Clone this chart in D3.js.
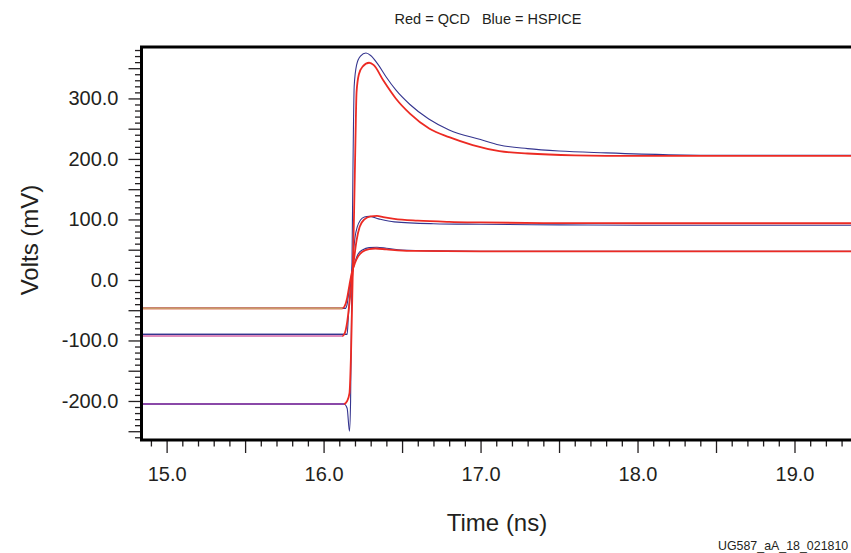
<!DOCTYPE html>
<html>
<head>
<meta charset="utf-8">
<script src="https://cdn.jsdelivr.net/npm/d3@7"></script>
<style>
  body { margin: 0; background: #fff; }
  text { font-family: "Liberation Sans", Arial, Helvetica, sans-serif; fill: #231f20; }
</style>
</head>
<body>
<div id="chart-area"></div>
<script>
// QCD vs HSPICE waveform comparison


//////////  Data (time in ns, volts in mV)  ///////////

var hspiceHigh = [[14.84,-205],[16.13,-205],[16.15,-212],[16.165,-250],[16.172,-200],[16.18,0],[16.187,180],
    [16.195,320],[16.21,355],[16.235,370],[16.27,375],[16.30,371],[16.35,355],[16.40,335],[16.46,314],
    [16.55,290],[16.67,266],[16.8,248],[17.0,232],[17.12,223],[17.3,217],[17.5,213],[17.8,210],
    [18.2,207],[18.6,206],[19.36,206]];

var qcdHigh = [[14.84,-205],[16.13,-205],[16.15,-200],[16.165,-187],[16.175,-120],[16.185,0],[16.195,120],
    [16.203,230],[16.21,310],[16.225,340],[16.25,353],[16.29,359],[16.32,355],[16.38,330],[16.46,300],
    [16.55,275],[16.675,250],[16.8,236],[16.95,223],[17.12,213],[17.3,209],[17.6,206],[18.0,205],[19.36,205]];

var hspiceMid = [[14.84,-90],[16.15,-90],[16.158,-60],[16.17,-15],[16.18,15],[16.19,45],[16.2,70],
    [16.215,88],[16.235,99],[16.26,104],[16.29,105],[16.35,101],[16.45,96],[16.7,93],[17.0,92],
    [17.5,91],[18.0,90.5],[19.36,90.5]];

var qcdMid = [[14.84,-92.6],[16.12,-92.6],[16.135,-88],[16.15,-70],[16.17,-25],[16.19,25],[16.21,65],
    [16.23,88],[16.26,100],[16.3,105],[16.34,106],[16.38,104],[16.45,101],[16.6,98],[16.8,96],
    [17.0,95],[17.4,94],[18.0,93.7],[19.36,93.7]];

var hspiceLow = [[14.84,-47],[16.14,-47],[16.15,-40],[16.165,-12],[16.18,8],[16.2,30],[16.22,43],
    [16.25,50],[16.29,53.5],[16.34,54],[16.4,52.5],[16.5,49.5],[16.7,48],[17.0,47.5],[19.36,47.5]];

var qcdLow = [[14.84,-47],[16.12,-47],[16.135,-43],[16.15,-30],[16.165,-8],[16.18,12],[16.2,28],
    [16.22,39],[16.25,47],[16.29,51],[16.33,52],[16.4,50.5],[16.55,48],[17.0,47.4],[19.36,47.4]];

// tick values
var xMajorTicks = [15, 16, 17, 18, 19];
var yMajorTicks = [-200, -100, 0, 100, 200, 300];

var titleText = "Red = QCD   Blue = HSPICE";
var figureId = "UG587_aA_18_021810";


//////////  Layout  ///////////

var width = 851, height = 553;
var plotLeft = 141.5, plotTop = 47, plotBottom = 440, plotRight = 851;

var x = d3.scaleLinear()
    .domain([14.84, 19.36])
    .range([plotLeft, plotRight]);

var y = d3.scaleLinear()
    .domain([-264.5, 385])
    .range([plotBottom, plotTop]);

// blue drawn first, red on top. preColor = colour of the flat part before the edge
var series = [
    { data: hspiceHigh, color: "#35358f", width: 1.1, preColor: "#35358f", preEnd: 16.13 },
    { data: hspiceMid,  color: "#35358f", width: 1.1, preColor: "#35358f", preEnd: 16.15 },
    { data: hspiceLow,  color: "#35358f", width: 1.1, preColor: "#35358f", preEnd: 16.14 },
    { data: qcdHigh, color: "#ec2a23", width: 1.8, preColor: "#8a48a8", preEnd: 16.13 },
    { data: qcdMid,  color: "#ec2a23", width: 1.8, preColor: "#e08cbc", preEnd: 16.12 },
    { data: qcdLow,  color: "#ec2a23", width: 1.8, preColor: "#c99b68", preEnd: 16.12 }
];


var svg = d3.select("#chart-area")
    .append("svg")
        .attr("width", width)
        .attr("height", height);

svg.append("clipPath")
    .attr("id", "plot-clip")
  .append("rect")
    .attr("x", plotLeft)
    .attr("y", plotTop)
    .attr("width", plotRight - plotLeft)
    .attr("height", plotBottom - plotTop);


//////////  Curves  ///////////

var line = d3.line()
    .curve(d3.curveMonotoneX)
    .x(function(d){ return x(d[0]); })
    .y(function(d){ return y(d[1]); });

var curves = svg.append("g").attr("clip-path", "url(#plot-clip)");

series.forEach(function(s){
    curves.append("path")
        .attr("d", line(s.data))
        .attr("fill", "none")
        .attr("stroke", s.color)
        .attr("stroke-width", s.width)
        .attr("stroke-linejoin", "round");
    curves.append("path")
        .attr("d", line(s.data.filter(function(d){ return d[0] <= s.preEnd; })))
        .attr("fill", "none")
        .attr("stroke", s.preColor)
        .attr("stroke-width", s.width);
});


//////////  Axes  ///////////

// minor ticks every 0.1 ns / 10 mV, longer ones at halves
var xTicks = d3.range(149, 194).map(function(v){ return v / 10; });
var yTicks = d3.range(-26, 39).map(function(v){ return v * 10; });

function isMajorX(v){ return xMajorTicks.some(function(m){ return Math.abs(v - m) < 1e-6; }); }
function isHalfX(v){ return Math.abs(v * 2 - Math.round(v * 2)) < 1e-6; }

var xAxisCall = d3.axisBottom(x)
    .tickValues(xTicks)
    .tickSizeOuter(0)
    .tickFormat(function(v){ return isMajorX(v) ? v.toFixed(1) : ""; });

var xAxis = svg.append("g")
    .attr("class", "x axis")
    .attr("transform", "translate(0, " + plotBottom + ")")
    .call(xAxisCall);
xAxis.select(".domain").remove();
xAxis.selectAll(".tick line")
    .attr("stroke", "#231f20")
    .attr("stroke-width", 1.3)
    .attr("y2", function(v){ return isHalfX(v) ? 13 : 6.5; });
xAxis.selectAll(".tick text")
    .attr("font-size", "20px")
    .attr("y", 27)
    .attr("dy", "0.71em");

var yAxisCall = d3.axisLeft(y)
    .tickValues(yTicks)
    .tickSizeOuter(0)
    .tickFormat(function(v){ return yMajorTicks.indexOf(v) >= 0 ? v.toFixed(1) : ""; });

var yAxis = svg.append("g")
    .attr("class", "y axis")
    .attr("transform", "translate(" + plotLeft + ", 0)")
    .call(yAxisCall);
yAxis.select(".domain").remove();
yAxis.selectAll(".tick line")
    .attr("stroke", "#231f20")
    .attr("stroke-width", 1.3)
    .attr("x2", function(v){ return v % 50 === 0 ? -13 : -6.5; });
yAxis.selectAll(".tick text")
    .attr("font-size", "20px")
    .attr("x", -23);

// frame: left, top, bottom
svg.append("path")
    .attr("d", "M" + plotRight + "," + plotTop + "H" + plotLeft + "V" + plotBottom + "H" + plotRight)
    .attr("fill", "none")
    .attr("stroke", "#000")
    .attr("stroke-width", 3);


//////////  Labels  ///////////

svg.append("text")
    .attr("x", 488)
    .attr("y", 24)
    .attr("font-size", "14.5px")
    .attr("text-anchor", "middle")
    .style("white-space", "pre")
    .text(titleText);

svg.append("text")
    .attr("x", 497)
    .attr("y", 531)
    .attr("font-size", "24px")
    .attr("text-anchor", "middle")
    .text("Time (ns)");

svg.append("text")
    .attr("transform", "translate(38, 240) rotate(-90)")
    .attr("font-size", "24px")
    .attr("text-anchor", "middle")
    .text("Volts (mV)");

svg.append("text")
    .attr("x", 718)
    .attr("y", 550)
    .attr("font-size", "12.4px")
    .text(figureId);

</script>
</body>
</html>
